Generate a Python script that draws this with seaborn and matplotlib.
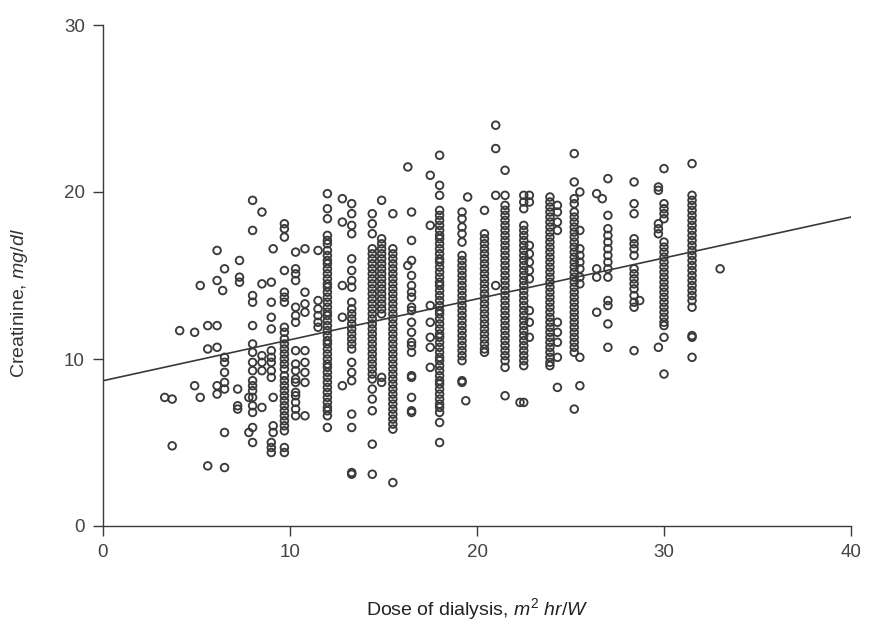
import matplotlib
matplotlib.use("Agg")
import matplotlib.pyplot as plt
import seaborn as sns
import numpy as np
import pandas as pd

# ---- data: columns of (dose, creatinine) ----
scatter_left_x = [3.3, 3.7, 3.7, 4.1, 4.9, 4.9, 5.2, 5.2, 5.6, 6.1, 5.6, 6.1, 5.6, 6.5, 6.1, 6.1, 6.5, 6.4,
                  6.1, 6.1, 6.5, 6.5, 6.5, 6.5, 6.5, 6.5, 7.3, 7.3, 7.3, 7.2, 7.2, 7.2, 7.8, 7.8]
scatter_left_y = [7.7, 7.6, 4.8, 11.7, 11.6, 8.4, 14.4, 7.7, 12.0, 12.0, 10.6, 10.7, 3.6, 3.5, 16.5, 14.7, 15.4, 14.1,
                  8.4, 7.9, 5.6, 10.1, 9.8, 9.2, 8.6, 8.2, 15.9, 14.9, 14.6, 8.2, 7.2, 7.0, 7.7, 5.6]

col_doses = [8.0, 8.5, 9.0, 9.1, 9.7, 10.3, 10.8, 11.5, 12.0, 12.8, 13.3, 14.4, 14.9, 15.5, 16.3, 16.5,
             17.5, 18.0, 19.2, 19.4, 19.5, 20.4, 21.0, 21.5, 22.3, 22.5, 22.8, 23.9, 24.3, 25.2, 25.5,
             26.4, 26.7, 27.0, 28.4, 28.7, 29.7, 30.0, 31.5, 33.0]

col_values = [
    [19.5, 17.7, 13.8, 13.4, 12.0, 10.9, 10.4, 9.8, 9.3, 8.7, 8.4, 8.1, 7.7, 7.2, 6.8, 5.9, 5.0],
    [18.8, 14.5, 10.2, 9.8, 9.3, 7.1],
    [14.6, 13.4, 12.5, 11.8, 10.5, 10.1, 9.8, 9.3, 8.9, 5.0, 4.7, 4.4],
    [16.6, 7.7, 6.0, 5.6],
    [18.1, 17.8, 17.3, 15.3, 14.0, 13.7, 13.4, 11.9, 11.6, 11.2, 10.9, 10.6, 10.3, 10.0, 9.7, 9.4, 9.0,
     8.7, 8.4, 8.1, 7.8, 7.5, 7.2, 6.9, 6.6, 6.3, 6.0, 5.7, 4.7, 4.4],
    [16.4, 15.4, 15.1, 14.7, 13.1, 12.6, 12.2, 10.5, 9.7, 9.3, 8.8, 8.6, 8.0, 7.8, 7.4, 7.0, 6.6],
    [16.6, 14.0, 13.3, 12.8, 10.5, 9.8, 9.2, 8.6, 6.6],
    [16.5, 13.5, 13.0, 12.6, 12.2, 11.9],
    [19.9, 19.0, 18.4, 17.4, 17.1, 16.9, 16.5, 16.2, 15.9, 15.7, 15.4, 15.1, 14.8, 14.5, 14.3, 14.0, 13.7,
     13.4, 13.1, 12.8, 12.6, 12.3, 12.0, 11.7, 11.4, 11.1, 10.9, 10.6, 10.3, 10.0, 9.7, 9.5, 9.2, 8.9,
     8.6, 8.3, 8.0, 7.7, 7.4, 7.1, 6.9, 6.6, 5.9],
    [19.6, 18.2, 14.4, 12.5, 8.4],
    [19.3, 18.7, 18.0, 17.5, 16.0, 15.3, 14.7, 14.3, 13.4, 13.0, 12.7, 12.4, 12.1, 11.8, 11.5, 11.2, 10.9,
     10.6, 9.8, 9.2, 8.7, 6.7, 5.9, 3.2, 3.1],
    [18.7, 18.1, 17.5, 16.6, 16.3, 16.0, 15.7, 15.4, 15.1, 14.8, 14.5, 14.2, 13.9, 13.6, 13.3, 13.0, 12.7,
     12.4, 12.1, 11.8, 11.5, 11.2, 10.9, 10.6, 10.3, 10.0, 9.7, 9.4, 9.1, 8.8, 8.2, 7.6, 6.9, 4.9, 3.1],
    [19.5, 17.2, 16.9, 16.6, 16.3, 16.0, 15.7, 15.4, 15.1, 14.8, 14.5, 14.2, 13.9, 13.6, 13.3, 13.0, 12.7,
     8.9, 8.6],
    [18.7, 16.6, 16.3, 16.0, 15.7, 15.4, 15.1, 14.8, 14.5, 14.2, 13.9, 13.6, 13.3, 13.0, 12.7, 12.4, 12.1,
     11.8, 11.5, 11.2, 10.9, 10.6, 10.3, 10.0, 9.7, 9.4, 9.1, 8.8, 8.5, 8.2, 7.9, 7.6, 7.3, 7.0, 6.7,
     6.4, 6.1, 5.8, 2.6],
    [21.5, 15.6],
    [18.8, 17.1, 15.9, 15.0, 14.4, 14.0, 13.7, 13.1, 12.9, 12.2, 11.6, 11.0, 10.8, 10.4, 9.0, 8.9, 7.7, 6.9, 6.8],
    [21.0, 18.0, 13.2, 12.2, 11.3, 10.7, 9.5],
    [22.2, 20.4, 19.8, 18.9, 18.6, 18.3, 18.0, 17.7, 17.4, 17.2, 16.9, 16.6, 16.3, 16.0, 15.8, 15.5, 15.2,
     14.9, 14.6, 14.4, 14.1, 13.8, 13.5, 13.2, 12.9, 12.7, 12.4, 12.1, 11.8, 11.5, 11.3, 11.0, 10.7, 10.4,
     10.1, 9.9, 9.6, 9.3, 9.0, 8.7, 8.5, 8.2, 7.9, 7.6, 7.3, 7.1, 6.8, 6.2, 5.0],
    [18.8, 18.4, 17.9, 17.5, 17.0, 16.2, 15.9, 15.6, 15.3, 15.0, 14.7, 14.4, 14.1, 13.8, 13.5, 13.2, 12.9,
     12.6, 12.3, 12.0, 11.7, 11.4, 11.1, 10.8, 10.5, 10.2, 9.9, 8.7, 8.6],
    [7.5],
    [19.7],
    [18.9, 17.5, 17.2, 16.9, 16.6, 16.3, 16.0, 15.7, 15.4, 15.1, 14.8, 14.5, 14.2, 13.9, 13.6, 13.3, 13.0,
     12.7, 12.4, 12.1, 11.8, 11.5, 11.2, 10.9, 10.6, 10.4],
    [24.0, 22.6, 19.8, 14.4],
    [21.3, 19.8, 19.2, 18.9, 18.6, 18.3, 18.0, 17.7, 17.4, 17.1, 16.8, 16.5, 16.2, 15.9, 15.6, 15.3, 15.0,
     14.7, 14.4, 14.1, 13.8, 13.5, 13.2, 12.9, 12.6, 12.3, 12.0, 11.7, 11.4, 11.1, 10.8, 10.5, 10.2, 9.9,
     9.5, 7.8],
    [7.4],
    [19.8, 19.4, 19.0, 18.0, 17.7, 17.4, 17.1, 16.8, 16.5, 16.2, 15.9, 15.6, 15.3, 15.0, 14.7, 14.4, 14.1,
     13.8, 13.5, 13.2, 12.9, 12.6, 12.3, 12.0, 11.7, 11.4, 11.1, 10.8, 10.5, 10.2, 9.9, 9.6, 7.4],
    [19.8, 19.4, 16.8, 16.3, 15.8, 15.3, 14.8, 12.9, 12.2, 11.3],
    [19.7, 19.4, 19.1, 18.8, 18.5, 18.2, 17.9, 17.6, 17.3, 17.0, 16.7, 16.4, 16.1, 15.8, 15.5, 15.2, 14.9,
     14.6, 14.3, 14.0, 13.7, 13.4, 13.1, 12.8, 12.5, 12.2, 11.9, 11.6, 11.3, 11.0, 10.7, 10.4, 10.1, 9.8, 9.6],
    [19.2, 18.8, 18.2, 17.7, 12.2, 11.6, 11.0, 10.1, 8.3],
    [22.3, 20.6, 19.6, 19.3, 18.8, 18.5, 18.2, 17.9, 17.6, 17.3, 17.0, 16.7, 16.4, 16.1, 15.8, 15.5, 15.2,
     14.9, 14.6, 14.3, 14.0, 13.7, 13.4, 13.1, 12.8, 12.5, 12.2, 11.9, 11.6, 11.3, 11.0, 10.7, 10.4, 7.0],
    [20.0, 17.7, 16.6, 16.2, 15.8, 15.4, 14.9, 14.5, 10.1, 8.4],
    [19.9, 15.4, 14.9, 12.8],
    [19.6],
    [20.8, 18.6, 17.8, 17.4, 17.0, 16.6, 16.2, 15.8, 15.4, 14.9, 13.5, 13.2, 12.1, 10.7],
    [20.6, 19.3, 18.7, 17.2, 16.9, 16.6, 16.2, 15.4, 15.1, 14.8, 14.5, 14.2, 13.8, 13.4, 13.1, 10.5],
    [13.5],
    [20.3, 20.1, 18.1, 17.8, 17.5, 10.7],
    [21.4, 19.3, 19.0, 18.7, 18.4, 17.0, 16.7, 16.4, 16.1, 15.8, 15.5, 15.2, 14.9, 14.6, 14.3, 14.0, 13.7,
     13.4, 13.1, 12.8, 12.5, 12.2, 12.0, 11.3, 9.1],
    [21.7, 19.8, 19.5, 19.2, 18.9, 18.6, 18.3, 18.0, 17.7, 17.4, 17.1, 16.8, 16.5, 16.2, 15.9, 15.6, 15.3,
     15.0, 14.7, 14.4, 14.1, 13.8, 13.5, 13.1, 11.4, 11.3, 10.1],
    [15.4],
]

# fitted regression line (endpoints)
fit_x = [0, 40]
fit_y = [8.7, 18.5]

x_ticks = [0, 10, 20, 30, 40]
y_ticks = [0, 10, 20, 30]

# ---- build table ----
dose = list(scatter_left_x)
creat = list(scatter_left_y)
for d, vals in zip(col_doses, col_values):
    dose += [d] * len(vals)
    creat += vals
df = pd.DataFrame({"dose": dose, "creatinine": creat})
fit = pd.DataFrame({"dose": fit_x, "creatinine": fit_y})

# ---- style ----
sns.set_style("ticks")
plt.rcParams["font.family"] = ["Liberation Sans", "DejaVu Sans"]
plt.rcParams["mathtext.fontset"] = "custom"
plt.rcParams["mathtext.rm"] = "Liberation Sans"
plt.rcParams["mathtext.it"] = "Liberation Sans:italic"

ink = "#3a3a3a"
fig = plt.figure(figsize=(8.73, 6.21), dpi=100)
ax = fig.add_axes([103 / 873, 95 / 621, 748 / 873, 501 / 621])

sns.scatterplot(data=df, x="dose", y="creatinine", ax=ax, marker="o", s=30,
                fc="none", ec=ink, linewidth=1.35, legend=False, zorder=3)
sns.lineplot(data=fit, x="dose", y="creatinine", ax=ax, color=ink, linewidth=1.2, zorder=2)

ax.set_xlim(0, 40)
ax.set_ylim(0, 30)
ax.set_xticks(x_ticks)
ax.set_yticks(y_ticks)
ax.tick_params(direction="out", length=7, width=1.0, color=ink, labelsize=13.5, labelcolor="#444444", pad=6)
for s in ["left", "bottom"]:
    ax.spines[s].set_color(ink)
    ax.spines[s].set_linewidth(1.0)
sns.despine(ax=ax)

ax.set_xlabel(r"Dose of dialysis, $m^2\ hr/W$", fontsize=14, color="#222222")
ax.set_ylabel(r"Creatinine, $mg/dl$", fontsize=14, color="#333333")
ax.xaxis.set_label_coords(0.5, -0.140)
ax.yaxis.set_label_coords(-0.097, 0.445)

fig.savefig("out.png", dpi=100)
